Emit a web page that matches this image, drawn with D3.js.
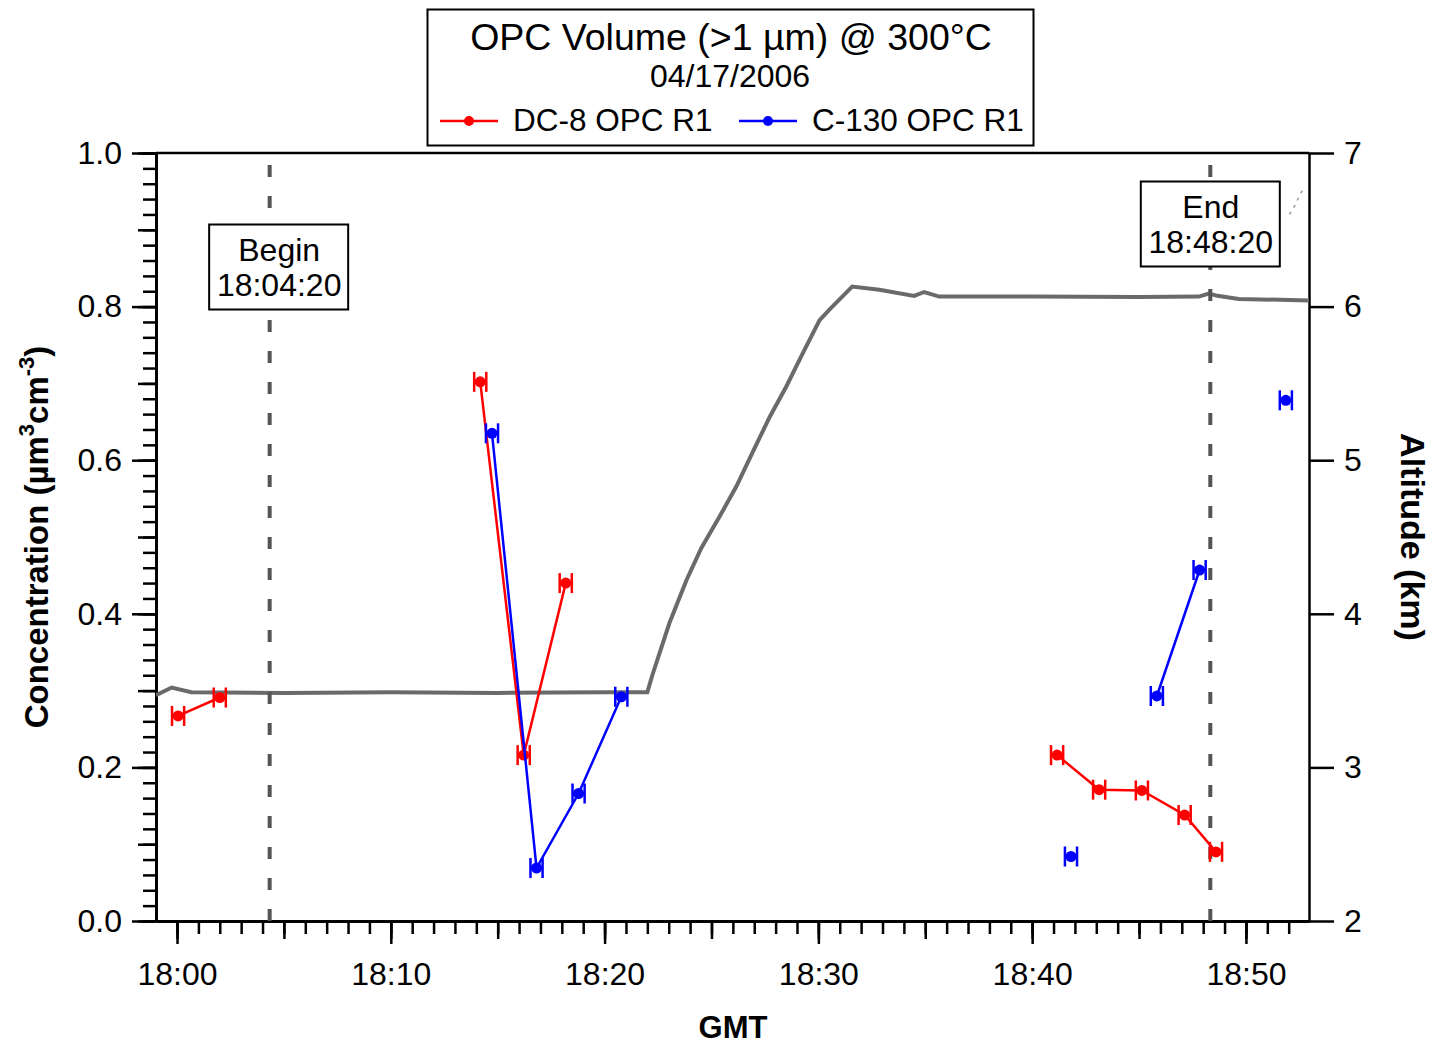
<!DOCTYPE html>
<html>
<head>
<meta charset="utf-8">
<script src="https://cdn.jsdelivr.net/npm/d3@7"></script>
<style>
  html, body { margin: 0; padding: 0; background: #fff; }
  svg { display: block; font-family: "Liberation Sans", Arial, sans-serif; }
</style>
</head>
<body>
<svg id="chart" width="1435" height="1044"></svg>
<script>
// ---------------- DATA ----------------
// DC-8 OPC R1 (null = gap in line)
const dc8Times  = ["18:00:03","18:02:00",null,"18:14:11","18:16:13","18:18:11",null,"18:41:10","18:43:08","18:45:08","18:47:08","18:48:36"];
const dc8Values = [0.267,0.291,null,0.702,0.216,0.440,null,0.216,0.171,0.170,0.138,0.090];
// C-130 OPC R1
const c130Times  = ["18:14:44","18:16:49","18:18:47","18:20:47",null,"18:41:49",null,"18:45:50","18:47:50",null,"18:51:52"];
const c130Values = [0.635,0.069,0.166,0.292,null,0.084,null,0.293,0.457,null,0.678];
// Altitude (km), DC-8 track
const altTimes = ["17:59:01","17:59:45","18:00:40","18:05:00","18:10:00","18:15:00","18:20:00","18:22:00",
  "18:22:14","18:23:02","18:23:50","18:24:32","18:25:22","18:26:10","18:26:55","18:27:43","18:28:30",
  "18:29:15","18:30:03","18:30:31","18:31:35","18:32:51","18:34:29","18:34:57","18:35:39","18:40:00",
  "18:45:00","18:47:48","18:48:16","18:48:40","18:49:40","18:52:57"];
const altValues = [3.47,3.52,3.49,3.485,3.49,3.485,3.49,3.49,
  3.60,3.94,4.22,4.43,4.63,4.83,5.05,5.28,5.48,
  5.69,5.91,5.98,6.13,6.11,6.07,6.095,6.065,6.065,
  6.062,6.065,6.085,6.07,6.05,6.04];
// faint ascending altitude trace near the right edge
const altTailTimes  = ["18:52:02","18:52:18","18:52:30","18:52:44"];
const altTailValues = [6.60,6.66,6.72,6.78];
// Period markers
const markerTimes  = ["18:04:20","18:48:20"];
const markerLabels = ["Begin","End"];
// Axis tick values
const yTicks    = [0.0,0.2,0.4,0.6,0.8,1.0];
const altTicks  = [2,3,4,5,6,7];
const xDomain   = ["17:59:01","18:52:57"];
const errHalfSec = 17;

// ---------------- SETUP ----------------
const parse = d3.utcParse("%H:%M:%S");
const L = 156, R = 1309, T = 153, B = 921;
const svg = d3.select("#chart");

const x = d3.scaleUtc().domain(xDomain.map(parse)).range([L, R]);
const y = d3.scaleLinear().domain([0, 1]).range([B, T]);
const yAlt = d3.scaleLinear().domain([2, 7]).range([B, T]);

const RED = "#ff0000", BLUE = "#0000ff", GRAY = "#6a6a6a";
const FS = 32;

// ---------------- AXES ----------------
function styleAxis(g) {
  g.select(".domain").attr("stroke", "#000").attr("stroke-width", 2.5);
  g.selectAll(".tick line").attr("stroke", "#000").attr("stroke-width", 2.5);
  g.selectAll("text").attr("fill", "#000").attr("font-size", FS).attr("font-family", "Liberation Sans, Arial, sans-serif");
}
// bottom: minor (1 min), medium (5 min), major (10 min, labelled)
const fmt = d3.utcFormat("%H:%M");
svg.append("g").attr("transform", `translate(0,${B})`)
  .call(d3.axisBottom(x).ticks(d3.utcMinute.every(1)).tickSize(13).tickFormat("").tickSizeOuter(0))
  .call(styleAxis);
svg.append("g").attr("transform", `translate(0,${B})`)
  .call(d3.axisBottom(x).ticks(d3.utcMinute.every(5)).tickSize(18).tickFormat("").tickSizeOuter(0))
  .call(styleAxis);
svg.append("g").attr("transform", `translate(0,${B})`)
  .call(d3.axisBottom(x).ticks(d3.utcMinute.every(10)).tickSize(23).tickPadding(18).tickFormat(fmt).tickSizeOuter(0))
  .call(styleAxis);

// left: minor 0.02, medium 0.1, major 0.2
const minorY = d3.range(0, 51).map(i => i * 0.02);
const medY = d3.range(0, 11).map(i => i * 0.1);
svg.append("g").attr("transform", `translate(${L},0)`)
  .call(d3.axisLeft(y).tickValues(minorY).tickSize(13).tickFormat("").tickSizeOuter(0))
  .call(styleAxis);
svg.append("g").attr("transform", `translate(${L},0)`)
  .call(d3.axisLeft(y).tickValues(medY).tickSize(18).tickFormat("").tickSizeOuter(0))
  .call(styleAxis);
svg.append("g").attr("transform", `translate(${L},0)`)
  .call(d3.axisLeft(y).tickValues(yTicks).tickSize(24).tickPadding(10).tickFormat(d3.format(".1f")).tickSizeOuter(0))
  .call(styleAxis);

// right: altitude
svg.append("g").attr("transform", `translate(${R},0)`)
  .call(d3.axisRight(yAlt).tickValues(altTicks).tickSize(25).tickPadding(10).tickFormat(d3.format("d")).tickSizeOuter(0))
  .call(styleAxis);

// top frame line
svg.append("line").attr("x1", L).attr("x2", R).attr("y1", T).attr("y2", T)
  .attr("stroke", "#000").attr("stroke-width", 2.5);

// axis titles
svg.append("text").attr("x", 733).attr("y", 1038).attr("text-anchor", "middle")
  .attr("font-size", 31).attr("font-weight", "bold").text("GMT");

const yl = svg.append("text").attr("transform", "translate(48,537) rotate(-90)")
  .attr("text-anchor", "middle").attr("font-size", 33).attr("font-weight", "bold");
yl.append("tspan").text("Concentration  (µm");
yl.append("tspan").attr("font-size", 22).attr("dy", -14).text("3");
yl.append("tspan").attr("dy", 14).text("cm");
yl.append("tspan").attr("font-size", 22).attr("dy", -14).text("-3");
yl.append("tspan").attr("dy", 14).text(")");

svg.append("text").attr("transform", "translate(1401,537) rotate(90)")
  .attr("text-anchor", "middle").attr("font-size", 34).attr("font-weight", "bold")
  .text("Altitude  (km)");

// ---------------- PLOT CONTENT ----------------
svg.append("defs").append("clipPath").attr("id", "plotclip")
  .append("rect").attr("x", L).attr("y", T).attr("width", R - L).attr("height", B - T);
const plot = svg.append("g").attr("clip-path", "url(#plotclip)");

// altitude trace
const altData = altTimes.map((t, i) => ({ t: parse(t), v: altValues[i] }));
plot.append("path").datum(altData)
  .attr("fill", "none").attr("stroke", GRAY).attr("stroke-width", 4)
  .attr("d", d3.line().x(d => x(d.t)).y(d => yAlt(d.v)));
const tailData = altTailTimes.map((t, i) => ({ t: parse(t), v: altTailValues[i] }));
plot.append("path").datum(tailData)
  .attr("fill", "none").attr("stroke", "#999").attr("stroke-width", 1.5).attr("stroke-dasharray", "3,5")
  .attr("d", d3.line().x(d => x(d.t)).y(d => yAlt(d.v)));

// period dashed lines
markerTimes.forEach(t => {
  const xp = x(parse(t));
  plot.append("line").attr("x1", xp).attr("x2", xp).attr("y1", T).attr("y2", B)
    .attr("stroke", "#555").attr("stroke-width", 4)
    .attr("stroke-dasharray", "12,19").attr("stroke-dashoffset", 19);
});

function labelBox(cx, top, lines) {
  const g = svg.append("g");
  g.append("rect").attr("x", cx - 70).attr("y", top).attr("width", 139).attr("height", 85)
    .attr("fill", "#fff").attr("stroke", "#000").attr("stroke-width", 2);
  g.append("text").attr("x", cx).attr("y", top + 36).attr("text-anchor", "middle").attr("font-size", 32).text(lines[0]);
  g.append("text").attr("x", cx).attr("y", top + 71).attr("text-anchor", "middle").attr("font-size", 32).text(lines[1]);
}
labelBox(x(parse(markerTimes[0])) + 9.5, 224.5, [markerLabels[0], markerTimes[0]]);
labelBox(x(parse(markerTimes[1])) + 0.5, 181.5, [markerLabels[1], markerTimes[1]]);

// data series
function drawSeries(times, values, color) {
  const data = times.map((t, i) => t === null ? null : { t: parse(t), v: values[i] });
  const line = d3.line().defined(d => d !== null).x(d => x(d.t)).y(d => y(d.v));
  plot.append("path").datum(data).attr("fill", "none").attr("stroke", color).attr("stroke-width", 2.5)
    .attr("d", line);
  const pts = data.filter(d => d !== null);
  const g = plot.append("g");
  pts.forEach(d => {
    const x0 = x(new Date(d.t.getTime() - errHalfSec * 1000));
    const x1 = x(new Date(d.t.getTime() + errHalfSec * 1000));
    const yp = y(d.v);
    g.append("line").attr("x1", x0).attr("x2", x1).attr("y1", yp).attr("y2", yp).attr("stroke", color).attr("stroke-width", 2.5);
    g.append("line").attr("x1", x0).attr("x2", x0).attr("y1", yp - 10).attr("y2", yp + 10).attr("stroke", color).attr("stroke-width", 2.5);
    g.append("line").attr("x1", x1).attr("x2", x1).attr("y1", yp - 10).attr("y2", yp + 10).attr("stroke", color).attr("stroke-width", 2.5);
    g.append("circle").attr("cx", x(d.t)).attr("cy", yp).attr("r", 5.5).attr("fill", color);
  });
}
drawSeries(dc8Times, dc8Values, RED);
drawSeries(c130Times, c130Values, BLUE);

// ---------------- TITLE / LEGEND BOX ----------------
const tb = svg.append("g");
tb.append("rect").attr("x", 427.5).attr("y", 9.5).attr("width", 606).attr("height", 136)
  .attr("fill", "#fff").attr("stroke", "#000").attr("stroke-width", 2);
tb.append("text").attr("x", 731).attr("y", 50).attr("text-anchor", "middle").attr("font-size", 37.5)
  .text("OPC Volume (>1 µm) @ 300°C");
tb.append("text").attr("x", 730).attr("y", 87).attr("text-anchor", "middle").attr("font-size", 32)
  .text("04/17/2006");
const legendItems = [
  { label: "DC-8 OPC R1", color: RED, x0: 440 },
  { label: "C-130 OPC R1", color: BLUE, x0: 739 }
];
legendItems.forEach(it => {
  tb.append("line").attr("x1", it.x0).attr("x2", it.x0 + 58).attr("y1", 121).attr("y2", 121)
    .attr("stroke", it.color).attr("stroke-width", 2.5);
  tb.append("circle").attr("cx", it.x0 + 29).attr("cy", 121).attr("r", 5).attr("fill", it.color);
  tb.append("text").attr("x", it.x0 + 73).attr("y", 131).attr("font-size", 31.5).text(it.label);
});
</script>
</body>
</html>
